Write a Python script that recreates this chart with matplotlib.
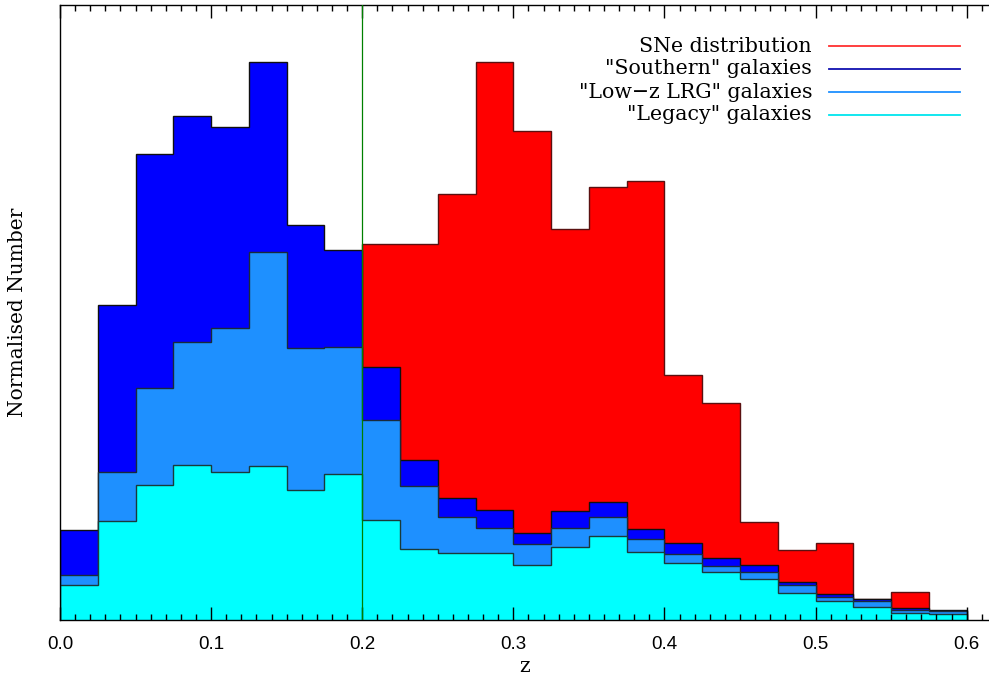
import numpy as np
import matplotlib
matplotlib.use('Agg')
import matplotlib.pyplot as plt

# redshift bins, width 0.025 from 0 to 0.6
bin_edges = np.round(np.arange(0, 0.6001, 0.025), 3)

# normalised counts per bin (arbitrary units)
sne = [0, 0, 0, 0, 0, 0, 0, 0, 376, 376, 426, 558, 489, 391, 433, 439,
       245, 217, 98, 70, 77, 21, 28, 0]
southern = [90, 315, 466, 504, 493, 558, 395, 370, 253, 160, 122, 110, 87, 109,
            118, 91, 77, 62, 55, 38, 26, 21, 12, 10]
lowz_lrg = [45, 148, 232, 278, 292, 368, 272, 273, 200, 134, 103, 92, 76, 92,
            103, 81, 66, 54, 48, 35, 23, 19, 10, 8.5]
legacy = [35, 99, 135, 155, 148, 154, 130, 146, 100, 71, 67, 67, 55, 73,
          84, 68, 57, 48, 41, 27, 19, 13, 7, 5.5]

labels = ['SNe distribution', '"Southern" galaxies', '"Low\u2212z LRG" galaxies', '"Legacy" galaxies']
fill_colors = ['#ff0000', '#0000ff', '#1e90ff', '#00ffff']
line_colors = ['#ff3030', '#1010b0', '#1e90ff', '#00e5ee']
edge_colors = ['#5a1010', '#101010', '#1a2a3a', '#1a3a3a']
z_cut = 0.2

fig = plt.figure(figsize=(9.89, 6.79), dpi=100)
ax = fig.add_axes([60 / 989, 59.5 / 679, 929 / 989, 614.5 / 679])

for vals, fc, ec in zip([sne, southern, lowz_lrg, legacy], fill_colors, edge_colors):
    ax.stairs(vals, bin_edges, fill=True, facecolor=fc, edgecolor=ec, linewidth=1.0)

ax.axvline(z_cut, color='green', linewidth=0.9, zorder=5)

ax.set_xlim(0, 0.6148)
ax.set_ylim(0, 614.5)

ax.set_xticks(np.arange(0, 0.61, 0.1))
ax.set_xticks(np.arange(0, 0.615, 0.01), minor=True)
ax.set_xticklabels(['0.0', '0.1', '0.2', '0.3', '0.4', '0.5', '0.6'],
                   fontsize=13.5, family='Liberation Sans')
ax.tick_params(axis='x', which='both', direction='in', top=True, bottom=True,
               width=1, pad=12)
ax.tick_params(axis='x', which='major', length=9.5)
ax.tick_params(axis='x', which='minor', length=4.3)
ax.set_yticks([])
ax.spines['right'].set_visible(False)
for s in ['left', 'top', 'bottom']:
    ax.spines[s].set_linewidth(1.0)

ax.set_xlabel('z', fontsize=14.5, family='DejaVu Serif', labelpad=3)
ax.set_ylabel('Normalised Number', fontsize=14.5, family='DejaVu Serif', labelpad=24)

# legend: right aligned text with line samples
leg_y = [46, 69, 92, 115]
for lab, lc, yp in zip(labels, line_colors, leg_y):
    yf = (619.5 - yp) / 614.5
    ax.plot([0.8278, 0.9688], [yf, yf], color=lc, linewidth=1.3,
            transform=ax.transAxes, clip_on=False, zorder=6)
    ax.text(0.8095, yf, lab, ha='right', va='center', fontsize=14.8,
            family='DejaVu Serif', transform=ax.transAxes, zorder=6)

fig.savefig('out.png', dpi=100)
